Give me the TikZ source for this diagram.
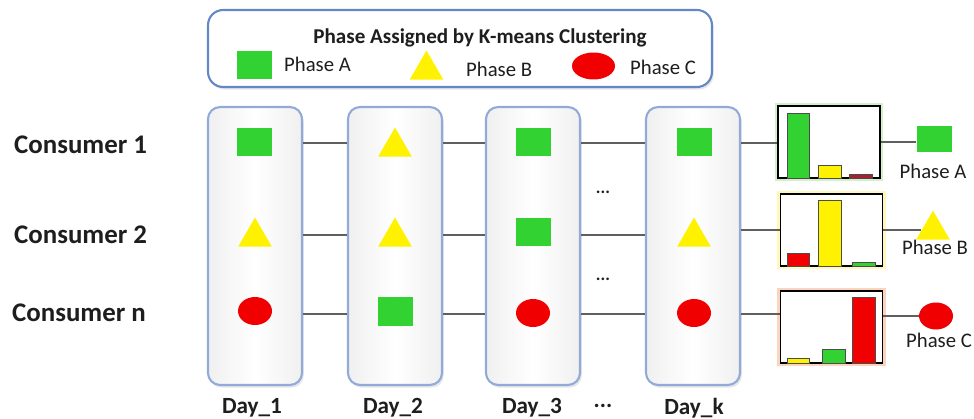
\documentclass[tikz,border=0pt]{standalone}
\usepackage{fontspec}
\setmainfont{Carlito}
\usepackage{xcolor}
\usetikzlibrary{shapes.geometric,shadows}
\definecolor{phaseA}{RGB}{50,210,50}
\definecolor{phaseB}{RGB}{255,242,0}
\definecolor{phaseC}{RGB}{240,0,0}
\definecolor{darkC}{RGB}{170,30,45}
\definecolor{frameblue}{RGB}{145,170,218}
\definecolor{legendblue}{RGB}{100,135,200}
\definecolor{wiregray}{RGB}{95,95,95}
\definecolor{inkgray}{RGB}{30,30,30}
\definecolor{glowA}{RGB}{212,240,200}
\definecolor{glowB}{RGB}{255,248,190}
\definecolor{glowC}{RGB}{250,212,190}

\begin{document}
\begin{tikzpicture}[x=0.02cm,y=-0.02cm,text=inkgray,
        dayframe/.style={draw=frameblue,line width=1.2pt,rounded corners=0.24cm,minimum width=1.88cm,minimum height=5.56cm,
            left color=gray!12,right color=gray!12,middle color=white,
            drop shadow={opacity=0.2,shadow xshift=1pt,shadow yshift=-1.5pt}},
        sq/.style={fill=phaseA,minimum width=0.7cm,minimum height=0.58cm,inner sep=0},
        tri/.style={fill=phaseB,regular polygon,regular polygon sides=3,minimum size=0.78cm,inner sep=0,yshift=-0.1cm},
        ell/.style={fill=phaseC,ellipse,minimum width=0.68cm,minimum height=0.56cm,inner sep=0},
        wire/.style={draw=wiregray,line width=0.6pt},
        histbox/.style={preaction={draw=#1,line width=3.5pt},draw=black,line width=0.8pt,fill=white,
            minimum width=2.04cm,minimum height=1.44cm,inner sep=0},
        bar/.style={fill=#1,draw=black!70,line width=0.4pt},
        consumer/.style={anchor=west,font=\fontsize{15.3}{18}\selectfont\bfseries},
        daylabel/.style={font=\fontsize{13.2}{16}\selectfont\bfseries},
        phaselabel/.style={font=\fontsize{11.8}{14}\selectfont}]
        \useasboundingbox (0,0) rectangle (974,419);

        \node[draw=legendblue,line width=1.2pt,rounded corners=0.3cm,fill=white,minimum width=10.08cm,minimum height=1.54cm,
            drop shadow={opacity=0.2,shadow xshift=1pt,shadow yshift=-1.5pt}] (legend) at (460,48.5) {};
        \node[font=\fontsize{12}{14}\selectfont\bfseries] (title) at (480,38) {Phase Assigned by K-means Clustering};
        \node[sq] (keyA) at (254.5,65) {};
        \node[phaselabel,anchor=west] (keyAtext) at (278,64) {Phase A};
        \node[tri] (keyB) at (426.5,65) {};
        \node[phaselabel,anchor=west] (keyBtext) at (460,69) {Phase B};
        \node[ell,minimum width=0.86cm,minimum height=0.54cm] (keyC) at (593.5,66) {};
        \node[phaselabel,anchor=west] (keyCtext) at (624,67) {Phase C};

        \node[consumer] (c1) at (8,145) {Consumer 1};
        \node[consumer] (c2) at (8,235) {Consumer 2};
        \node[consumer] (cn) at (6,313) {Consumer n};

        \coordinate (r1) at (0,143);
        \coordinate (r2) at (0,235);
        \coordinate (r3) at (0,314);

        \node[dayframe] (day1) at (255,246) {};
        \node[dayframe] (day2) at (395,246) {};
        \node[dayframe] (day3) at (533,246) {};
        \node[dayframe] (dayk) at (693,246) {};

        \draw[wire] (day1.east |- r1) -- (day2.west |- r1);
        \draw[wire] (day1.east |- r2) -- (day2.west |- r2);
        \draw[wire] (day1.east |- r3) -- (day2.west |- r3);
        \draw[wire] (day2.east |- r1) -- (day3.west |- r1);
        \draw[wire] (day2.east |- r2) -- (day3.west |- r2);
        \draw[wire] (day2.east |- r3) -- (day3.west |- r3);
        \draw[wire] (day3.east |- r1) -- (dayk.west |- r1);
        \draw[wire] (day3.east |- r2) -- (dayk.west |- r2);
        \draw[wire] (day3.east |- r3) -- (dayk.west |- r3);

        \node[sq] (d1a) at (254.5,142) {};
        \node[tri] (d1b) at (255,232) {};
        \node[ell] (d1c) at (255,311) {};
        \node[tri] (d2a) at (395,142) {};
        \node[tri] (d2b) at (395,232) {};
        \node[sq] (d2c) at (395,311) {};
        \node[sq] (d3a) at (533,142) {};
        \node[sq] (d3b) at (533,232) {};
        \node[ell] (d3c) at (533,313) {};
        \node[sq] (dka) at (694,142) {};
        \node[tri] (dkb) at (694,232) {};
        \node[ell] (dkc) at (694,313) {};

        \node[font=\bfseries] (gap1) at (603,192) {...};
        \node[font=\bfseries] (gap2) at (603,279) {...};

        \node[daylabel] (lab1) at (252,408) {Day\_1};
        \node[daylabel] (lab2) at (393,408) {Day\_2};
        \node[daylabel] (lab3) at (532,408) {Day\_3};
        \node[daylabel] (labgap) at (603,406) {...};
        \node[daylabel] (labk) at (694,408) {Day\_k};

        \node[histbox=glowA] (hist1) at (829,142) {};
        \node[histbox=glowB] (hist2) at (831.5,230) {};
        \node[histbox=glowC] (hist3) at (831.5,327) {};

        \draw[bar=phaseA] (787,113) rectangle (809,178);
        \draw[bar=phaseB] (818,165) rectangle (841,178);
        \draw[bar=darkC] (849,174) rectangle (872,178);
        \draw[bar=phaseC] (787,253) rectangle (809,266);
        \draw[bar=phaseB] (818,200) rectangle (841,266);
        \draw[bar=phaseA] (852,262) rectangle (875,266);
        \draw[bar=phaseB] (787,358) rectangle (809,363);
        \draw[bar=phaseA] (822,349) rectangle (845,363);
        \draw[bar=phaseC] (852,297) rectangle (875,363);

        \draw[wire] (dayk.east |- r1) -- (hist1.west |- r1);
        \draw[wire] (dayk.east |- hist2.west) -- (hist2.west);
        \draw[wire] (dayk.east |- r3) -- (hist3.west |- r3);

        \node[sq,minimum height=0.52cm] (resA) at (934,139) {};
        \node[tri] (resB) at (933,225) {};
        \node[ell,minimum height=0.54cm] (resC) at (936,316) {};
        \node[phaselabel] (resAtext) at (933,171) {Phase A};
        \node[phaselabel] (resBtext) at (935,247) {Phase B};
        \node[phaselabel] (resCtext) at (939,340) {Phase C};

        \draw[wire] (hist1.east) -- (resA.west |- hist1.east);
        \draw[wire] (hist2.east |- resB) -- (resB.west);
        \draw[wire] (hist3.east |- resC) -- (resC.west);
    \end{tikzpicture}
\end{document}
